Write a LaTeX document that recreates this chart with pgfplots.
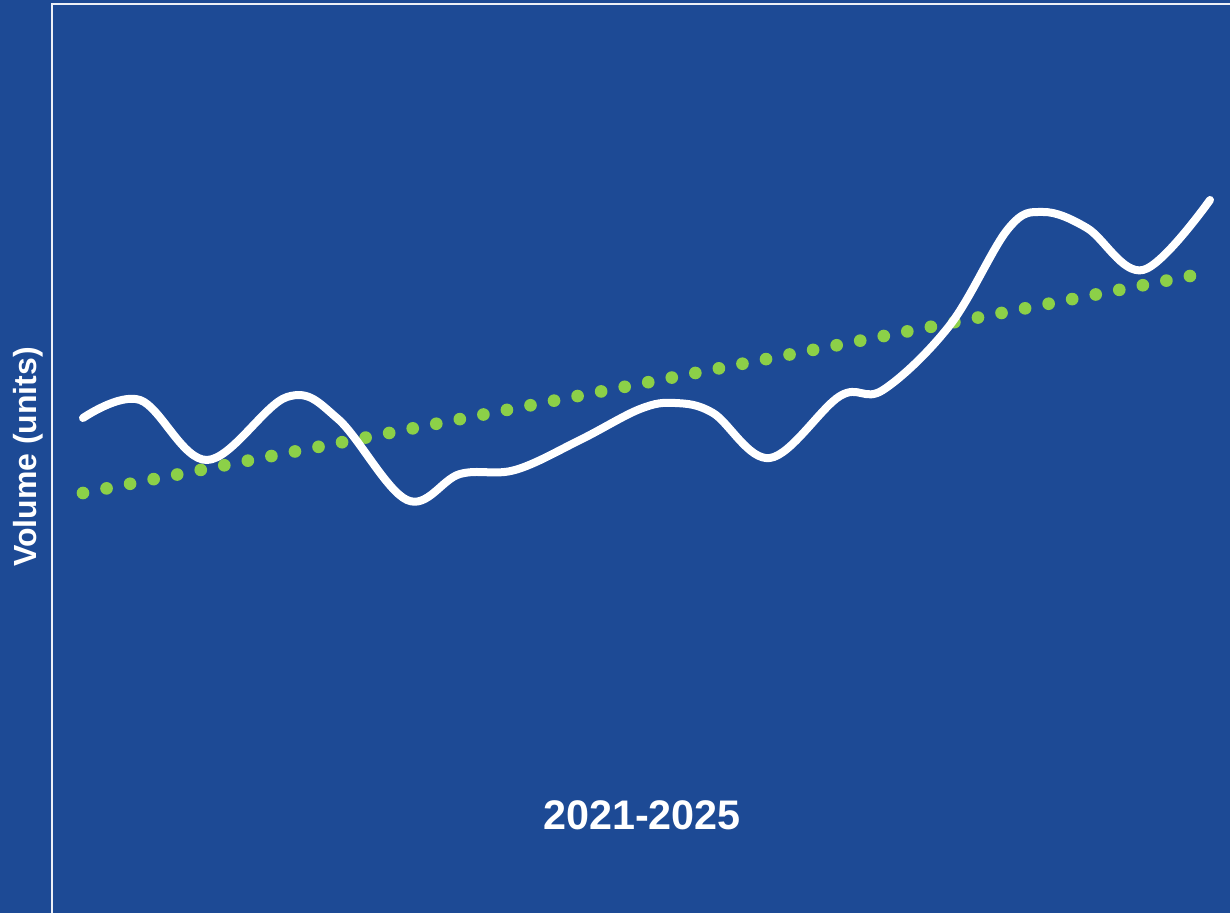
\documentclass[border=0pt]{standalone}
\usepackage{pgfplots}
\pgfplotsset{compat=1.18}
\usepackage{fontspec}
\setmainfont{Liberation Sans}
\definecolor{bgblue}{HTML}{1D4A95}
\definecolor{trendgreen}{HTML}{8CD048}
\begin{document}
\begin{tikzpicture}
\begin{axis}[
  scale only axis,
  width=922.5pt, height=684.75pt,
  xmin=0, xmax=1230, ymin=0, ymax=913,
  axis lines=none, ticks=none,
  clip=true,
]
\fill[bgblue] (axis cs:0,0) rectangle (axis cs:1230,913);
\draw[white!92!bgblue, line width=1.6pt] (axis cs:52,0) -- (axis cs:52,909) -- (axis cs:1230,909);
\addplot[trendgreen, line width=9.5pt, line cap=round, dash pattern=on 0pt off 18pt] coordinates {(83,420) (1190,637)};
\addplot[white, line width=6pt, line cap=round, line join=round, smooth, tension=0.6] coordinates {
(83,495) (140,513) (207,453) (287,516) (338,494) (407,413) (460,439) (515,443)
(580,473) (640,504) (675,510) (713,500) (770,455) (840,517) (883,523) (950,588)
(1008,684) (1043,701) (1087,685) (1143,643) (1210,713)};
\node[white, font=\bfseries\fontsize{31}{36}\selectfont, anchor=base] at (axis cs:642,84) {2021-2025};
\node[white, font=\bfseries\fontsize{24}{28}\selectfont, rotate=90] at (axis cs:28,456) {Volume (units)};
\end{axis}
\end{tikzpicture}
\end{document}
